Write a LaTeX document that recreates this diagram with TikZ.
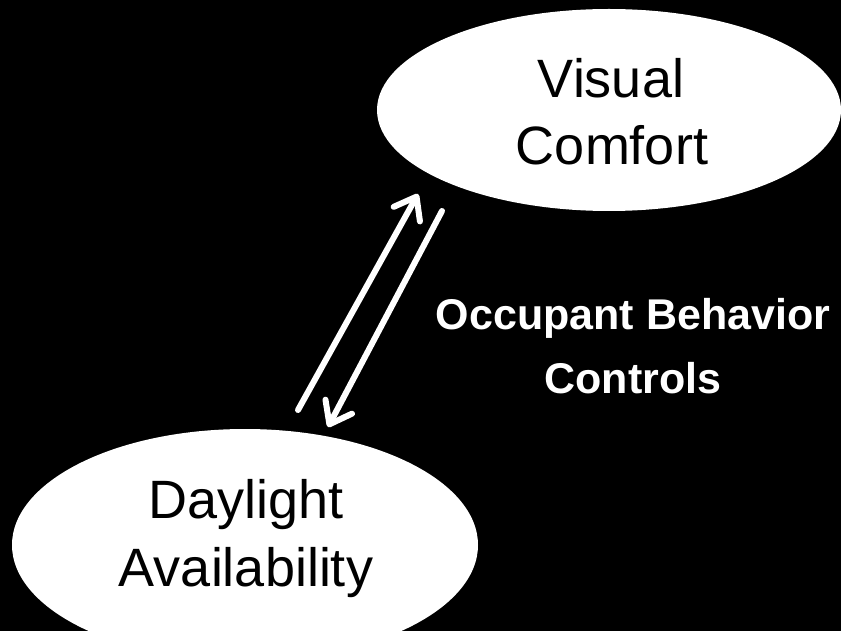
\documentclass[tikz,border=0pt]{standalone}
\usepackage{fontspec}
\setmainfont{Liberation Sans}
\usetikzlibrary{shapes.geometric,arrows.meta}
\begin{document}
\begin{tikzpicture}[x=1pt,y=-1pt,
  bubble/.style={ellipse,fill=white,draw=none,inner sep=0pt},
  bubbletext/.style={anchor=base,inner sep=0pt,text=black,font=\fontsize{54}{64}\selectfont},
  note/.style={anchor=base,inner sep=0pt,text=white,font=\fontsize{43}{52}\selectfont\bfseries},
  link/.style={draw=white,line width=6pt,line cap=round,
    -{Straight Barb[length=20pt,width=30pt,line cap=round,line join=round]}}]
  % canvas
  \fill[black] (0,0) rectangle (841,631);
  \useasboundingbox (0,0) rectangle (841,631);

  % the two concepts
  \node[bubble,minimum width=464pt,minimum height=202pt] (vc) at (609,110) {};
  \node[bubble,minimum width=466pt,minimum height=232pt] (da) at (245,545) {};
  \node[bubbletext] (vc1) at (611,98) {Visual};
  \node[bubbletext] (vc2) at (612,165) {Comfort};
  \node[bubbletext] (da1) at (246,518) {Daylight};
  \node[bubbletext] (da2) at (246,586) {Availability};

  % arrow ends
  \coordinate (upS) at (298,410);
  \coordinate (upE) at (418,194);
  \coordinate (dnS) at (442,211);
  \coordinate (dnE) at (328,427);
  \draw[link] (upS) -- (upE);
  \draw[link] (dnS) -- (dnE);

  % label
  \node[note] (ob1) at (633,329) {Occupant Behavior};
  \node[note] (ob2) at (633,393) {Controls};
\end{tikzpicture}
\end{document}
